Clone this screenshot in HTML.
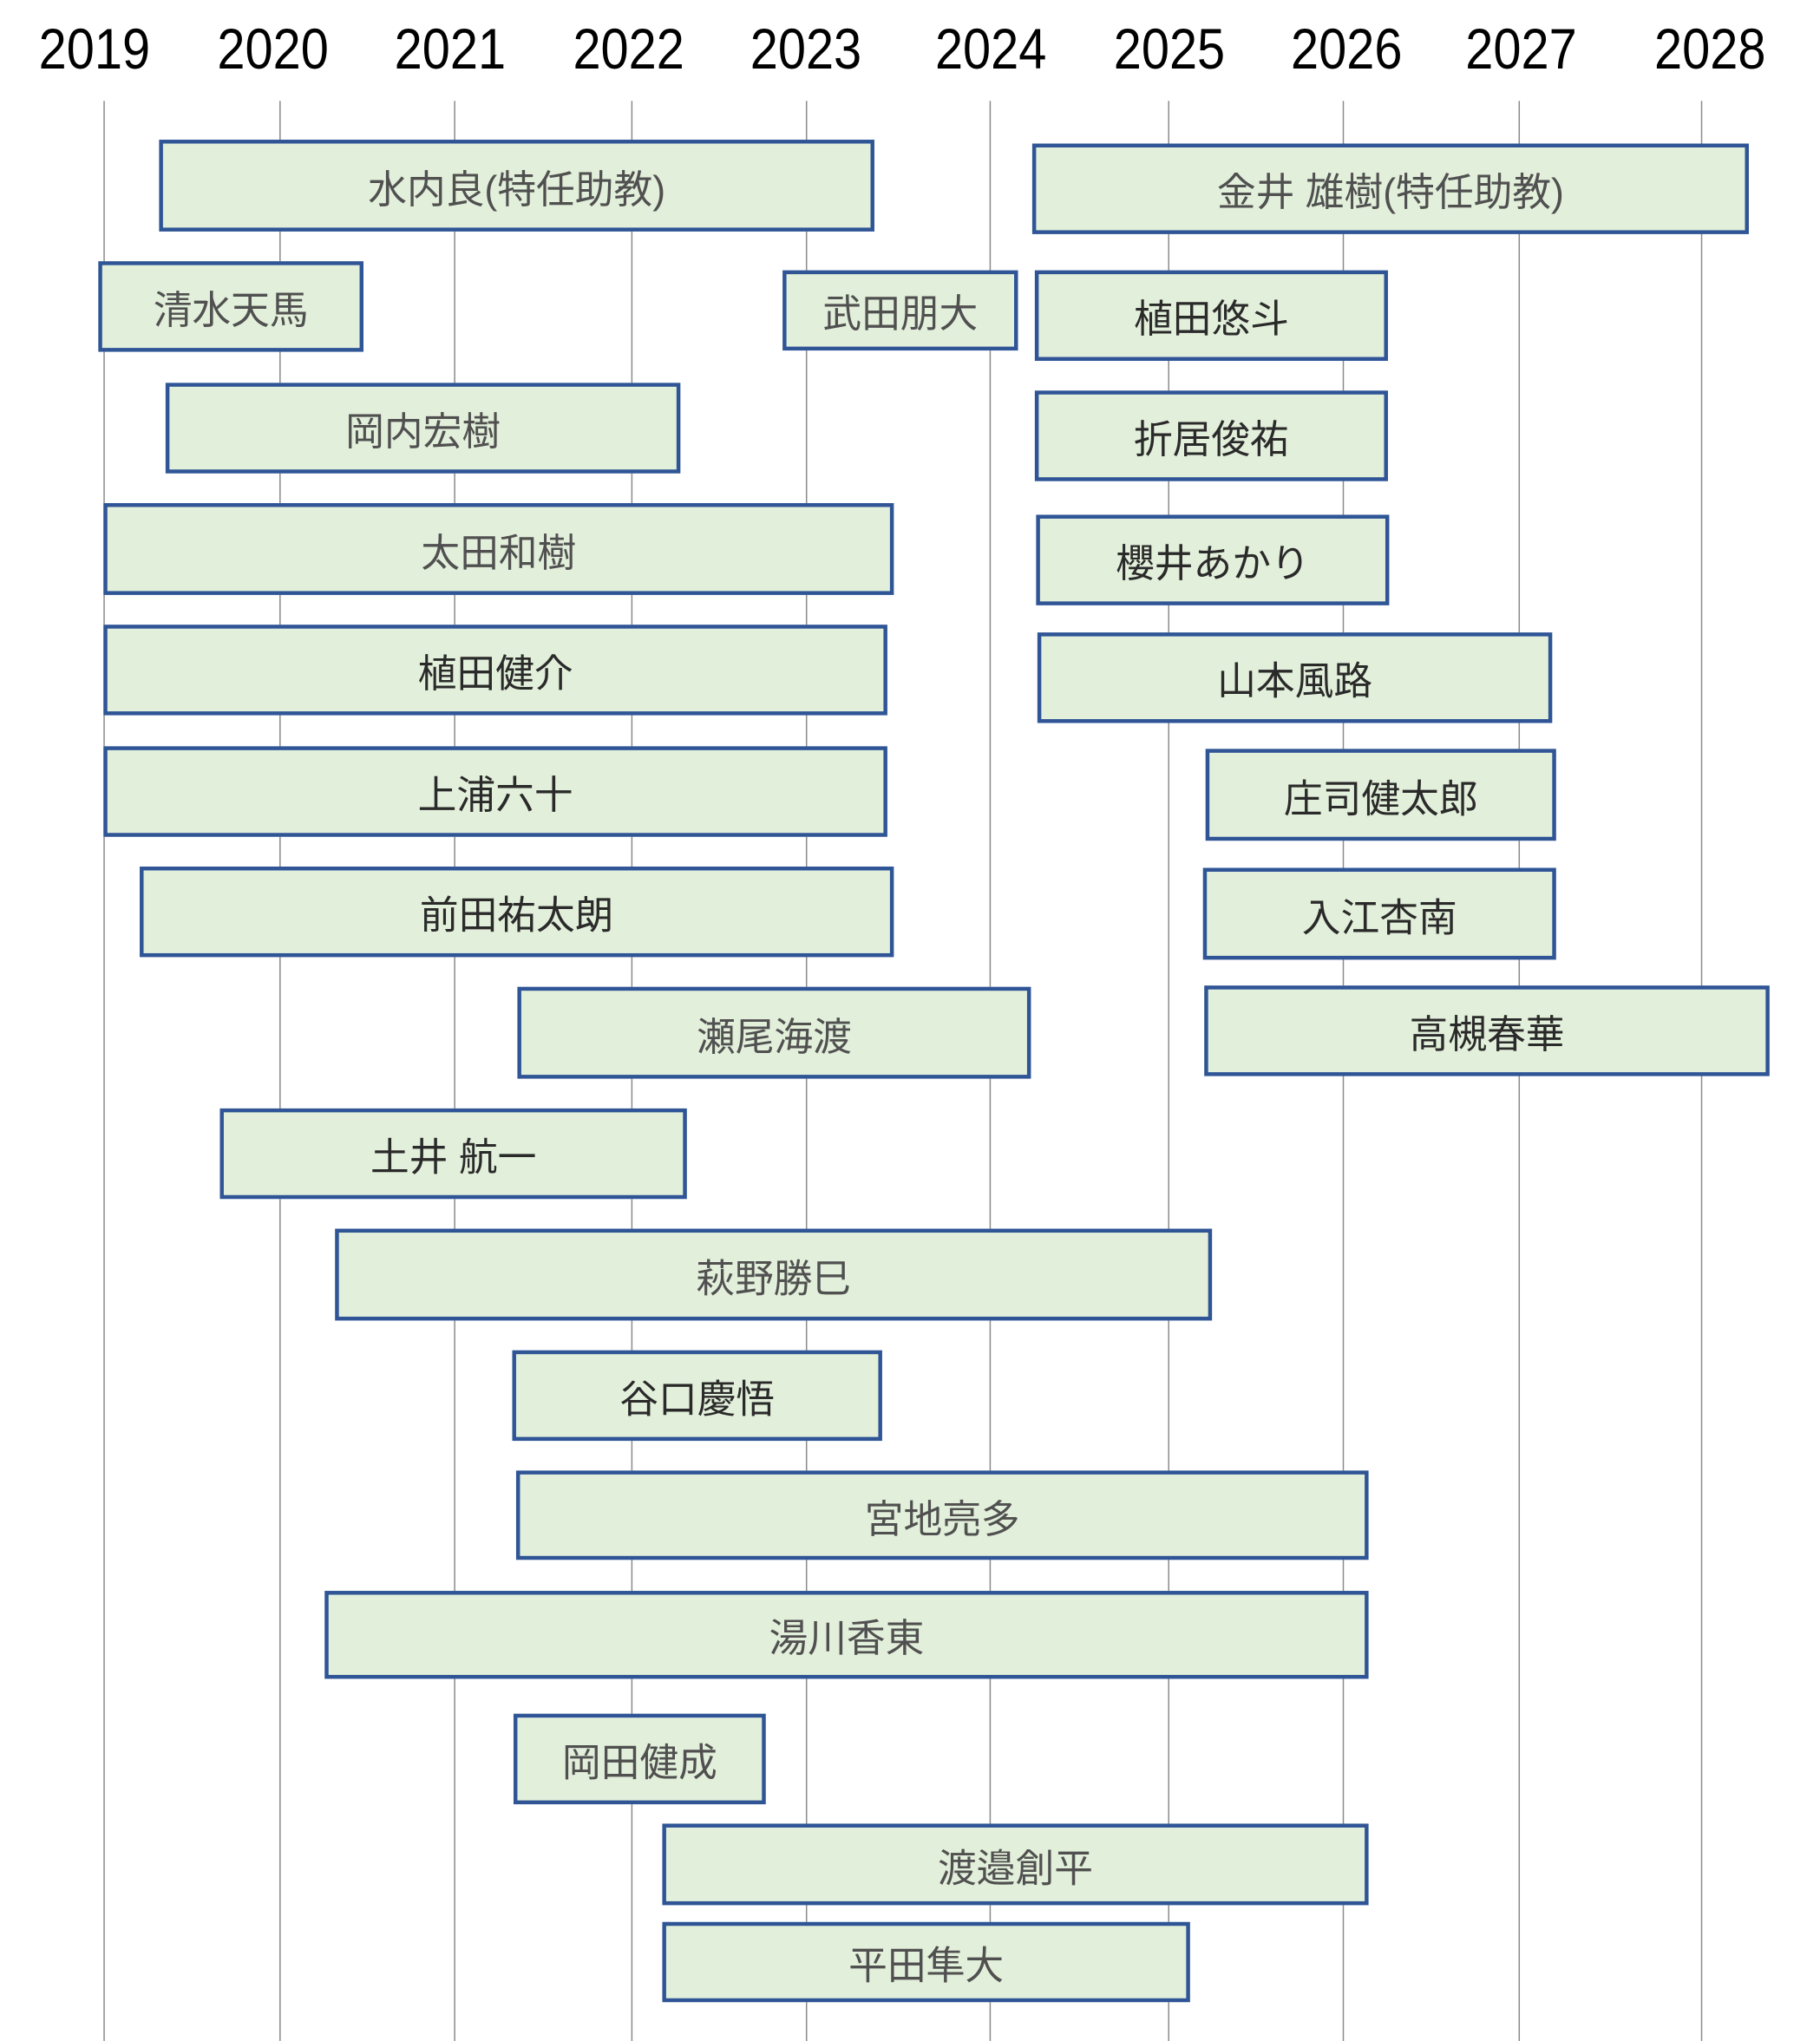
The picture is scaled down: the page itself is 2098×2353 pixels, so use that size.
<!DOCTYPE html>
<html><head><meta charset="utf-8"><style>
html,body{margin:0;padding:0;background:#fff;width:2098px;height:2339px;overflow:hidden}
#w{position:absolute;left:0;top:0;width:1407px;height:1569px;transform:scale(1.4911);transform-origin:0 0}
.l{position:absolute;top:78px;height:1500px;width:1px;background:#8a8a8a}
.y{position:absolute;top:14px;width:120px;margin-left:-60px;text-align:center;font:44px "Liberation Sans",sans-serif;color:#000;transform:scaleX(0.88)}
.b{position:absolute;box-sizing:border-box;border:3px solid #2f5597;background:#e2efda;display:flex;align-items:center;justify-content:center;font:30px "Liberation Sans","Noto Sans CJK JP",sans-serif;color:#505050;white-space:nowrap}
.d{color:#2a2a2a}
</style></head><body><div id="w">
<div class="l" style="left:80px"></div><div class="l" style="left:216px"></div><div class="l" style="left:351px"></div><div class="l" style="left:488px"></div><div class="l" style="left:623px"></div><div class="l" style="left:765px"></div><div class="l" style="left:903px"></div><div class="l" style="left:1038px"></div><div class="l" style="left:1174px"></div><div class="l" style="left:1315px"></div>
<div class="y" style="left:73px">2019</div><div class="y" style="left:211px">2020</div><div class="y" style="left:348px">2021</div><div class="y" style="left:486px">2022</div><div class="y" style="left:623px">2023</div><div class="y" style="left:766px">2024</div><div class="y" style="left:904px">2025</div><div class="y" style="left:1041px">2026</div><div class="y" style="left:1176px">2027</div><div class="y" style="left:1322px">2028</div>
<div class="b" style="left:123px;top:108px;width:553px;height:71px">水内良(特任助教)</div>
<div class="b" style="left:798px;top:111px;width:554px;height:70px">金井 雄樹(特任助教)</div>
<div class="b" style="left:76px;top:202px;width:205px;height:70px">清水天馬</div>
<div class="b" style="left:605px;top:209px;width:182px;height:62px">武田朋大</div>
<div class="b d" style="left:800px;top:209px;width:273px;height:70px">植田悠斗</div>
<div class="b" style="left:128px;top:296px;width:398px;height:70px">岡内宏樹</div>
<div class="b d" style="left:800px;top:302px;width:273px;height:70px">折居俊祐</div>
<div class="b" style="left:80px;top:389px;width:611px;height:71px">太田和樹</div>
<div class="b d" style="left:801px;top:398px;width:273px;height:70px">櫻井あかり</div>
<div class="b d" style="left:80px;top:483px;width:606px;height:70px">植田健介</div>
<div class="b d" style="left:802px;top:489px;width:398px;height:70px">山本風路</div>
<div class="b d" style="left:80px;top:577px;width:606px;height:70px">上浦六十</div>
<div class="b d" style="left:932px;top:579px;width:271px;height:71px">庄司健太郎</div>
<div class="b d" style="left:108px;top:670px;width:583px;height:70px">前田祐太朗</div>
<div class="b d" style="left:930px;top:671px;width:273px;height:71px">入江杏南</div>
<div class="b" style="left:400px;top:763px;width:397px;height:71px">瀬尾海渡</div>
<div class="b d" style="left:931px;top:762px;width:437px;height:70px">高槻春華</div>
<div class="b d" style="left:170px;top:857px;width:361px;height:70px">土井 航一</div>
<div class="b" style="left:259px;top:950px;width:678px;height:71px">萩野勝巳</div>
<div class="b d" style="left:396px;top:1044px;width:286px;height:70px">谷口慶悟</div>
<div class="b" style="left:399px;top:1137px;width:659px;height:69px">宮地亮多</div>
<div class="b" style="left:251px;top:1230px;width:807px;height:68px">湯川香東</div>
<div class="b" style="left:397px;top:1325px;width:195px;height:70px">岡田健成</div>
<div class="b" style="left:512px;top:1410px;width:546px;height:63px">渡邉創平</div>
<div class="b" style="left:512px;top:1486px;width:408px;height:62px">平田隼大</div>
</div></body></html>
